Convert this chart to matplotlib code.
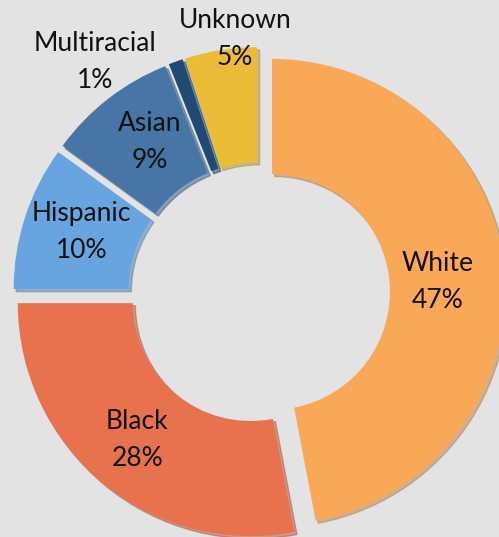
import matplotlib.pyplot as plt
import numpy as np

plt.rcParams['font.family'] = ['Lato', 'DejaVu Sans']

# data
groups = ['White', 'Black', 'Hispanic', 'Asian', 'Multiracial', 'Unknown']
shares = [47, 28, 10, 9, 1, 5]
colors = ['#F9A857', '#E8714E', '#67A4E0', '#4775A6', '#1F4A75', '#EBBC38']

# label placement (radius from wedge centre, angle shift in degrees)
label_r = [0.71, 0.765, 0.75, 0.745, 1.16, 1.04]
label_shift = [-2, 0, -1, -2, 16.3, -3.8]

fig = plt.figure(figsize=(4.99, 5.37), dpi=100)
fig.patch.set_facecolor('#E3E3E3')
ax = fig.add_axes([0, 0, 1, 1])
ax.set_facecolor('#E3E3E3')

wedges, _ = ax.pie(shares, colors=colors, startangle=90, counterclock=False,
                   explode=[0.056] * len(shares), radius=1.0,
                   wedgeprops=dict(width=0.494, edgecolor='none'),
                   shadow={'ox': 0.008, 'oy': -0.008, 'shade': 0.25})

for w, name, val, r, sh in zip(wedges, groups, shares, label_r, label_shift):
    mid = np.deg2rad((w.theta1 + w.theta2) / 2 + sh)
    cx, cy = w.center
    ax.text(cx + r * np.cos(mid), cy + r * np.sin(mid), f'{name}\n{val}%',
            ha='center', va='center', fontsize=19, linespacing=1.6,
            color='#111111')

ax.set_xlim(-1.112, 1.030)
ax.set_ylim(-1.047, 1.258)
ax.set_aspect('equal')
ax.axis('off')

fig.savefig('out.png', dpi=100, facecolor=fig.get_facecolor())
